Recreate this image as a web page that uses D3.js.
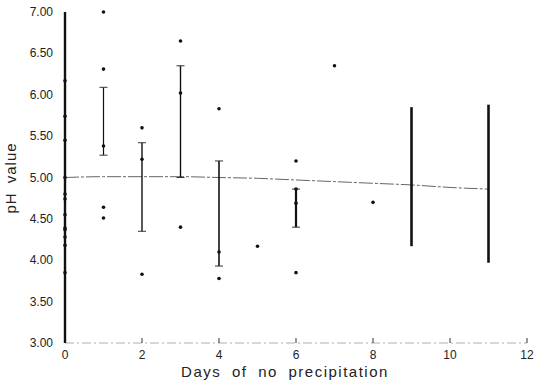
<!DOCTYPE html>
<html>
<head>
<meta charset="utf-8">
<script src="https://cdn.jsdelivr.net/npm/d3@7"></script>
<style>
  body { margin: 0; background: #fff; }
  svg { display: block; }
  text { font-family: "Liberation Sans", Arial, sans-serif; fill: #222; }
</style>
</head>
<body>
<div id="chart"></div>
<script>
'use strict';

// individual samples (day, pH)
const pointDays = [0, 0, 0, 0, 0, 0, 0, 0, 0, 0, 0, 0,
  1, 1, 1, 1, 1, 2, 2, 2, 3, 3, 3, 4, 4, 4, 5, 6, 6, 6, 6, 7, 8];
const pointVals = [6.17, 5.74, 5.45, 5.00, 4.80, 4.74, 4.55, 4.39, 4.37, 4.28, 4.18, 3.85,
  7.00, 6.31, 5.38, 4.64, 4.51, 5.60, 5.22, 3.83, 6.65, 6.02, 4.40, 5.83, 4.10, 3.78, 4.17,
  5.20, 4.86, 4.69, 3.85, 6.35, 4.70];

// ranges per day
const barDays = [1, 2, 3, 4, 6, 9, 11];
const barLow = [5.27, 4.35, 5.00, 3.93, 4.40, 4.17, 3.97];
const barHigh = [6.09, 5.42, 6.35, 5.20, 4.86, 5.85, 5.88];
const barWidth = [1.2, 1.4, 1.4, 1.6, 2.2, 2.6, 2.6];
const barCaps = [true, true, true, true, true, false, false];

// fitted trend
const fitDays = [0, 1, 2, 3, 4, 5, 6, 7, 8, 9, 10, 11];
const fitVals = [5.00, 5.01, 5.01, 5.01, 5.00, 4.99, 4.97, 4.95, 4.93, 4.91, 4.88, 4.86];

const xTicks = [0, 2, 4, 6, 8, 10, 12];
const yTicks = [3.0, 3.5, 4.0, 4.5, 5.0, 5.5, 6.0, 6.5, 7.0];

const width = 534, height = 382;
const x = d3.scaleLinear().domain([0, 12]).range([65, 527]);
const y = d3.scaleLinear().domain([3, 7]).range([343, 12]);

const svg = d3.select('#chart').append('svg')
  .attr('width', width)
  .attr('height', height);

// x axis baseline (dashed, faint)
svg.append('line')
  .attr('x1', x(0)).attr('x2', x(12))
  .attr('y1', y(3)).attr('y2', y(3))
  .attr('stroke', '#999')
  .attr('stroke-width', 0.8)
  .attr('stroke-dasharray', '9,3,2,3');

svg.selectAll('.xtick').data(xTicks).enter().append('line')
  .attr('class', 'xtick')
  .attr('x1', d => x(d)).attr('x2', d => x(d))
  .attr('y1', y(3)).attr('y2', y(3) - 5)
  .attr('stroke', '#333')
  .attr('stroke-width', 1);

svg.selectAll('.xlab').data(xTicks).enter().append('text')
  .attr('class', 'xlab')
  .attr('x', d => x(d))
  .attr('y', y(3) + 16)
  .attr('text-anchor', 'middle')
  .style('font-size', '12px')
  .text(d => d);

svg.selectAll('.ylab').data(yTicks).enter().append('text')
  .attr('class', 'ylab')
  .attr('x', 53)
  .attr('y', d => y(d) + 4)
  .attr('text-anchor', 'end')
  .style('font-size', '12px')
  .text(d3.format('.2f'));

// y axis (thick)
svg.append('line')
  .attr('x1', x(0)).attr('x2', x(0))
  .attr('y1', y(3)).attr('y2', y(7))
  .attr('stroke', '#111')
  .attr('stroke-width', 2.4);

// trend line
svg.append('path')
  .datum(fitDays.map((d, i) => [d, fitVals[i]]))
  .attr('fill', 'none')
  .attr('stroke', '#666')
  .attr('stroke-width', 1)
  .attr('stroke-dasharray', '14,2,3,2')
  .attr('d', d3.line().x(d => x(d[0])).y(d => y(d[1])).curve(d3.curveMonotoneX));

// range bars
const bars = svg.selectAll('.bar').data(barDays).enter().append('g').attr('class', 'bar');
bars.append('line')
  .attr('x1', d => x(d)).attr('x2', d => x(d))
  .attr('y1', (d, i) => y(barLow[i])).attr('y2', (d, i) => y(barHigh[i]))
  .attr('stroke', '#111')
  .attr('stroke-width', (d, i) => barWidth[i]);
bars.filter((d, i) => barCaps[i]).each(function(d) {
  const i = barDays.indexOf(d);
  const g = d3.select(this);
  [barLow[i], barHigh[i]].forEach(v => {
    g.append('line')
      .attr('x1', x(d) - 4).attr('x2', x(d) + 4)
      .attr('y1', y(v)).attr('y2', y(v))
      .attr('stroke', '#333')
      .attr('stroke-width', 1);
  });
});

// sample points
svg.selectAll('.pt').data(pointDays).enter().append('circle')
  .attr('class', 'pt')
  .attr('cx', d => x(d))
  .attr('cy', (d, i) => y(pointVals[i]))
  .attr('r', 1.8)
  .attr('fill', '#111');

// axis titles
svg.append('text')
  .attr('x', 285)
  .attr('y', 377)
  .attr('text-anchor', 'middle')
  .style('font-size', '15px')
  .style('letter-spacing', '1.5px')
  .style('word-spacing', '5px')
  .text('Days of no precipitation');

svg.append('text')
  .attr('transform', 'translate(16,178) rotate(-90)')
  .attr('text-anchor', 'middle')
  .style('font-size', '15px')
  .style('letter-spacing', '1px')
  .style('word-spacing', '4px')
  .text('pH value');
</script>
</body>
</html>
